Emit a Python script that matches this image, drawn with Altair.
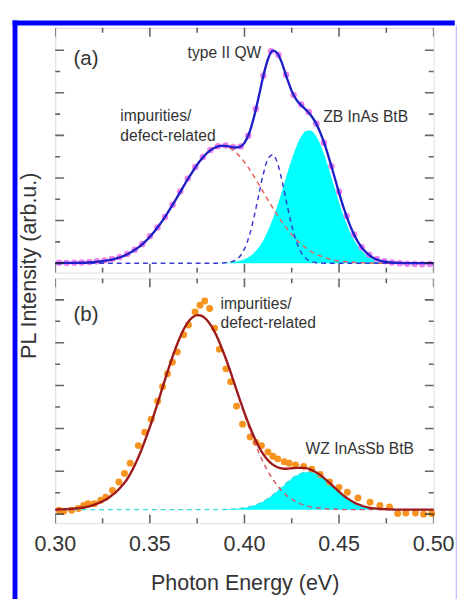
import altair as alt
import pandas as pd

# ---------------- data ----------------
# photon-energy sampling grid for the fitted curves (eV)
energy = [round(0.300 + 0.0025 * i, 4) for i in range(81)]

# panel (a): fit (total), impurity/defect component, type II QW component, ZB InAs BtB component
a_total = [0.000, 0.000, 0.001, 0.001, 0.001, 0.002, 0.002, 0.003, 0.005, 0.007,
           0.009, 0.013, 0.017, 0.023, 0.030, 0.039, 0.051, 0.065, 0.081, 0.101,
           0.124, 0.150, 0.179, 0.210, 0.245, 0.281, 0.318, 0.356, 0.394, 0.429,
           0.462, 0.491, 0.515, 0.533, 0.545, 0.551, 0.551, 0.547, 0.543, 0.546,
           0.565, 0.610, 0.685, 0.780, 0.880, 0.960, 0.998, 0.985, 0.935, 0.868,
           0.808, 0.767, 0.742, 0.720, 0.696, 0.662, 0.615, 0.555, 0.484, 0.408,
           0.330, 0.258, 0.195, 0.142, 0.100, 0.068, 0.045, 0.028, 0.017, 0.010,
           0.006, 0.003, 0.002, 0.001, 0.000, 0.000, 0.000, 0.000, 0.000, 0.000, 0.000]
a_defect = [0.000, 0.000, 0.000, 0.001, 0.001, 0.002, 0.002, 0.003, 0.005, 0.007,
            0.009, 0.013, 0.017, 0.023, 0.030, 0.039, 0.051, 0.065, 0.081, 0.101,
            0.124, 0.150, 0.179, 0.210, 0.245, 0.281, 0.318, 0.356, 0.394, 0.429,
            0.462, 0.491, 0.515, 0.533, 0.545, 0.550, 0.548, 0.539, 0.523, 0.501,
            0.474, 0.443, 0.408, 0.371, 0.334, 0.296, 0.259, 0.224, 0.191, 0.161,
            0.134, 0.110, 0.089, 0.071, 0.056, 0.044, 0.034, 0.026, 0.019, 0.014,
            0.010, 0.008, 0.005, 0.004, 0.003, 0.002, 0.001, 0.001, 0.001, 0.000,
            0.000, 0.000, 0.000, 0.000, 0.000, 0.000, 0.000, 0.000, 0.000, 0.000, 0.000]
a_qw = [0.000] * 36 + [0.002, 0.005, 0.013, 0.031, 0.067, 0.127, 0.214, 0.318, 0.420,
                       0.491, 0.509, 0.468, 0.381, 0.275, 0.176, 0.100, 0.050, 0.022,
                       0.009, 0.003, 0.001] + [0.000] * 24
a_zb = [0.000] * 35 + [0.001, 0.002, 0.003, 0.006, 0.011, 0.018, 0.030, 0.048, 0.073,
                       0.108, 0.153, 0.208, 0.273, 0.344, 0.418, 0.488, 0.549, 0.595,
                       0.621, 0.623, 0.602, 0.560, 0.501, 0.432, 0.359, 0.286, 0.220,
                       0.163, 0.116, 0.080, 0.053, 0.033, 0.020, 0.012, 0.007, 0.004,
                       0.002, 0.001] + [0.000] * 8
a_dot_x = [0.302, 0.306, 0.310, 0.314, 0.318, 0.322, 0.326, 0.330, 0.334, 0.338,
           0.342, 0.346, 0.350, 0.354, 0.358, 0.362, 0.366, 0.370, 0.374, 0.378,
           0.382, 0.386, 0.390, 0.394, 0.398, 0.402, 0.406, 0.410, 0.414, 0.418,
           0.422, 0.426, 0.430, 0.434, 0.438, 0.442, 0.446, 0.450, 0.454, 0.458,
           0.462, 0.466, 0.470, 0.474, 0.478, 0.482, 0.486, 0.490, 0.494, 0.498]
a_dot_y = [0.002, 0.001, 0.002, 0.003, 0.005, 0.009, 0.013, 0.020, 0.029, 0.043,
           0.063, 0.090, 0.126, 0.168, 0.217, 0.274, 0.336, 0.397, 0.452, 0.499,
           0.531, 0.549, 0.553, 0.546, 0.548, 0.598, 0.725, 0.880, 0.995, 0.978,
           0.885, 0.790, 0.745, 0.710, 0.655, 0.565, 0.455, 0.335, 0.222, 0.135,
           0.075, 0.040, 0.020, 0.009, 0.003, 0.000, -0.003, -0.004, -0.005, -0.004]

# panel (b): fit (total), impurity/defect component, WZ InAsSb BtB component
b_total = [0.021, 0.022, 0.023, 0.024, 0.026, 0.028, 0.031, 0.035, 0.042, 0.050,
           0.060, 0.072, 0.088, 0.106, 0.130, 0.157, 0.194, 0.238, 0.288, 0.345,
           0.407, 0.474, 0.543, 0.614, 0.683, 0.748, 0.806, 0.856, 0.894, 0.918,
           0.929, 0.925, 0.907, 0.878, 0.837, 0.786, 0.729, 0.667, 0.601, 0.536,
           0.473, 0.415, 0.362, 0.316, 0.279, 0.251, 0.231, 0.219, 0.213, 0.212,
           0.214, 0.216, 0.216, 0.215, 0.208, 0.197, 0.183, 0.165, 0.146, 0.125,
           0.105, 0.086, 0.070, 0.057, 0.046, 0.038, 0.032, 0.028, 0.026, 0.024,
           0.023, 0.022, 0.021, 0.021, 0.021, 0.021, 0.021, 0.021, 0.021, 0.021, 0.021]
b_defect = [0.021, 0.022, 0.023, 0.024, 0.026, 0.028, 0.031, 0.035, 0.042, 0.050,
            0.060, 0.072, 0.088, 0.106, 0.130, 0.157, 0.194, 0.238, 0.288, 0.345,
            0.407, 0.474, 0.543, 0.614, 0.683, 0.748, 0.806, 0.856, 0.894, 0.918,
            0.929, 0.925, 0.907, 0.878, 0.837, 0.786, 0.728, 0.665, 0.598, 0.531,
            0.465, 0.402, 0.343, 0.289, 0.241, 0.199, 0.163, 0.132, 0.107, 0.086,
            0.070, 0.057, 0.047, 0.040, 0.034, 0.030, 0.027, 0.025, 0.024, 0.023,
            0.022] + [0.021] * 20
b_wz = [0.021] * 36 + [0.022, 0.023, 0.024, 0.026, 0.029, 0.034, 0.040, 0.048, 0.059,
                       0.073, 0.089, 0.108, 0.127, 0.147, 0.165, 0.180, 0.190, 0.196,
                       0.195, 0.188, 0.177, 0.161, 0.143, 0.123, 0.104, 0.086, 0.070,
                       0.057, 0.046, 0.038, 0.032, 0.028, 0.026, 0.024, 0.023,
                       0.022] + [0.021] * 9
b_dot_x = [0.3020, 0.3045, 0.3087, 0.3122, 0.3150, 0.3173, 0.3207, 0.3240, 0.3267, 0.3302,
           0.3336, 0.3366, 0.3396, 0.3439, 0.3473, 0.3507, 0.3541, 0.3567, 0.3593, 0.3619,
           0.3645, 0.3679, 0.3704, 0.3739, 0.3765, 0.3790, 0.3816, 0.3842, 0.3867, 0.3902,
           0.3927, 0.3958, 0.3990, 0.4030, 0.4060, 0.4090, 0.4124, 0.4150, 0.4176, 0.4210,
           0.4236, 0.4270, 0.4313, 0.4356, 0.4400, 0.4450, 0.4500, 0.4544, 0.4600, 0.4664,
           0.4716, 0.4767, 0.4810, 0.4853, 0.4904, 0.4947, 0.4990]
b_dot_y = [0.018, 0.014, 0.018, 0.026, 0.040, 0.049, 0.049, 0.065, 0.079, 0.110,
           0.150, 0.190, 0.238, 0.320, 0.382, 0.443, 0.527, 0.595, 0.655, 0.709,
           0.757, 0.837, 0.883, 0.944, 0.975, 0.995, 0.960, 0.868, 0.769, 0.678,
           0.618, 0.504, 0.420, 0.360, 0.335, 0.320, 0.290, 0.270, 0.258, 0.245,
           0.238, 0.230, 0.223, 0.210, 0.185, 0.150, 0.125, 0.102, 0.075, 0.056,
           0.041, 0.034, 0.003, 0.005, 0.005, 0.000, 0.003]

# axis ticks / labels
x_major = [0.30, 0.35, 0.40, 0.45, 0.50]
x_minor = [0.325, 0.375, 0.425, 0.475]
y_major = [0.0, 0.2, 0.4, 0.6, 0.8, 1.0]
y_minor = [0.1, 0.3, 0.5, 0.7, 0.9]
x_tick_labels = ["0.30", "0.35", "0.40", "0.45", "0.50"]

# texts
y_title = "PL Intensity (arb.u.)"
x_title = "Photon Energy (eV)"
a_texts = ["(a)", "type II QW", "impurities/", "defect-related", "ZB InAs BtB"]
b_texts = ["(b)", "impurities/", "defect-related", "WZ InAsSb BtB"]

# ---------------- chart ----------------
W, H = 388, 251
FONT = "Liberation Sans"
INK = "#333333"
FRAME = "#222222"

xscale = alt.Scale(domain=[0.30, 0.50], nice=False, zero=False)
ya = alt.Scale(domain=[-0.0444, 1.105], nice=False, zero=False)
yb = alt.Scale(domain=[-0.0423, 1.100], nice=False, zero=False)


def tick_layers(yscale):
    layers = []
    for vals, size in ((x_major, 18), (x_minor, 10)):
        for ypix in (0, H):
            layers.append(
                alt.Chart(pd.DataFrame({"v": vals}))
                .mark_tick(orient="vertical", size=size, thickness=1.6, color=FRAME, clip=True)
                .encode(x=alt.X("v:Q", scale=xscale, axis=None), y=alt.value(ypix))
            )
    for vals, size in ((y_major, 18), (y_minor, 10)):
        for xpix in (0, W):
            layers.append(
                alt.Chart(pd.DataFrame({"v": vals}))
                .mark_tick(orient="horizontal", size=size, thickness=1.6, color=FRAME, clip=True)
                .encode(y=alt.Y("v:Q", scale=yscale, axis=None), x=alt.value(xpix))
            )
    return layers


def label(text, px, py, size=16, align="left", **kw):
    return (
        alt.Chart(pd.DataFrame({"t": [text]}))
        .mark_text(font=FONT, fontSize=size, color=INK, align=align, baseline="alphabetic", **kw)
        .encode(text="t:N", x=alt.value(px), y=alt.value(py))
    )


one = pd.DataFrame({"k": [0]})

# ---- panel (a)
dfa = pd.DataFrame({"energy": energy, "total": a_total, "defect": a_defect, "qw": a_qw, "zb": a_zb})
xa = alt.X("energy:Q", scale=xscale, axis=None)
base_a = alt.Chart(dfa)
a_area = base_a.mark_area(color="#00ffff", interpolate="monotone").encode(
    x=xa, y=alt.Y("zb:Q", scale=ya, axis=None), y2=alt.datum(0))
a_dots = alt.Chart(pd.DataFrame({"e": a_dot_x, "v": a_dot_y})).mark_circle(
    size=44, color="#ee82ee", opacity=1).encode(
    x=alt.X("e:Q", scale=xscale, axis=None), y=alt.Y("v:Q", scale=ya, axis=None))
a_def = base_a.mark_line(color="#e8605a", strokeWidth=1.5, strokeDash=[5, 4], interpolate="monotone").encode(
    x=xa, y=alt.Y("defect:Q", scale=ya, axis=None))
a_qwl = base_a.mark_line(color="#3a3ad0", strokeWidth=1.5, strokeDash=[5, 4], interpolate="monotone").encode(
    x=xa, y=alt.Y("qw:Q", scale=ya, axis=None))
a_tot = base_a.mark_line(color="#1f1fc8", strokeWidth=2.4, interpolate="monotone").encode(
    x=xa, y=alt.Y("total:Q", scale=ya, axis=None))

blue_left = alt.Chart(one).mark_rule(color="#0000ff", strokeWidth=5).encode(
    x=alt.value(-41.3), y=alt.value(-7.5), y2=alt.value(600))
blue_top = alt.Chart(one).mark_rule(color="#0000ff", strokeWidth=5).encode(
    x=alt.value(-43.8), x2=alt.value(409.7), y=alt.value(-5))
blue_right = alt.Chart(one).mark_rule(color="#a8a8ff", strokeWidth=1).encode(
    x=alt.value(411.2), y=alt.value(-2.5), y2=alt.value(600))
ytitle = (
    alt.Chart(pd.DataFrame({"t": [y_title]}))
    .mark_text(font=FONT, fontSize=22, color=INK, align="center", baseline="alphabetic", angle=270)
    .encode(text="t:N", x=alt.value(-20), y=alt.value(244))
)

panel_a = alt.layer(
    a_area, a_dots, a_def, a_qwl, a_tot,
    *tick_layers(ya),
    label(a_texts[0], 18.7, 38.6, size=21),
    label(a_texts[1], 135.7, 31.2),
    label(a_texts[2], 66.7, 96),
    label(a_texts[3], 66.7, 116),
    label(a_texts[4], 274.7, 97),
    ytitle, blue_left, blue_top, blue_right,
).properties(width=W, height=H)

# ---- panel (b)
dfb = pd.DataFrame({"energy": energy, "total": b_total, "defect": b_defect, "wz": b_wz})
xb = alt.X("energy:Q", scale=xscale, axis=None)
base_b = alt.Chart(dfb)
b_area = base_b.mark_area(color="#00ffff", interpolate="monotone").encode(
    x=xb, y=alt.Y("wz:Q", scale=yb, axis=None), y2=alt.datum(0.021))
b_dots = alt.Chart(pd.DataFrame({"e": b_dot_x, "v": b_dot_y})).mark_circle(
    size=50, color="#f7931e", opacity=1).encode(
    x=alt.X("e:Q", scale=xscale, axis=None), y=alt.Y("v:Q", scale=yb, axis=None))
b_wzl = base_b.mark_line(color="#33dddd", strokeWidth=1.5, strokeDash=[5, 4], interpolate="monotone").encode(
    x=xb, y=alt.Y("wz:Q", scale=yb, axis=None))
b_def = base_b.mark_line(color="#d65a6a", strokeWidth=1.5, strokeDash=[5, 4], interpolate="monotone").encode(
    x=xb, y=alt.Y("defect:Q", scale=yb, axis=None))
b_tot = base_b.mark_line(color="#9e1a1a", strokeWidth=2.4, interpolate="monotone").encode(
    x=xb, y=alt.Y("total:Q", scale=yb, axis=None))

x_labels = (
    alt.Chart(pd.DataFrame({"v": x_major, "t": x_tick_labels}))
    .mark_text(font=FONT, fontSize=22, color=INK, align="center", baseline="alphabetic")
    .encode(x=alt.X("v:Q", scale=xscale, axis=None), y=alt.value(280), text="t:N")
)

panel_b = alt.layer(
    b_area, b_dots, b_wzl, b_def, b_tot,
    *tick_layers(yb),
    label(b_texts[0], 18.7, 43.3, size=21),
    label(b_texts[1], 169.4, 31),
    label(b_texts[2], 169.4, 51),
    label(b_texts[3], 256.7, 180),
    x_labels,
    label(x_title, 194.7, 319, size=22, align="center"),
).properties(width=W, height=H)

chart = (
    alt.vconcat(panel_a, panel_b, spacing=6, bounds="flush")
    .properties(padding={"left": 1.5, "top": 1.5, "right": 0, "bottom": 0}, background="white")
    .configure_view(stroke=FRAME, strokeWidth=1.8)
    .configure(font=FONT)
)

chart.save("out.html", embed_options={"renderer": "svg", "actions": False})
